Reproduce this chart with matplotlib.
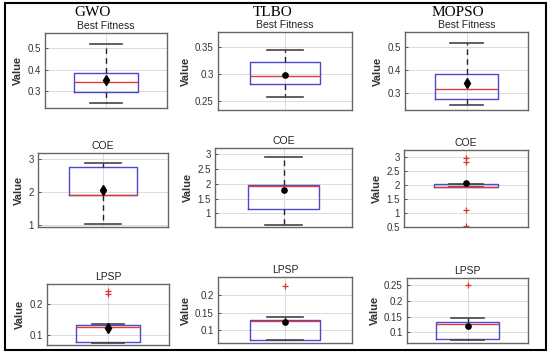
import matplotlib
matplotlib.use("Agg")
import matplotlib.pyplot as plt
from matplotlib.patches import Rectangle
from matplotlib.ticker import FuncFormatter

methods = ["GWO", "TLBO", "MOPSO"]
metrics = ["Best Fitness", "COE", "LPSP"]

# Best Fitness stats (per method)
bf_med = [0.343, 0.295, 0.316]
bf_q1 = [0.297, 0.2815, 0.271]
bf_q3 = [0.386, 0.3217, 0.383]
bf_lo = [0.245, 0.2575, 0.2465]
bf_hi = [0.520, 0.344, 0.517]
bf_mean = [0.350, 0.2975, 0.341]
bf_fliers = [[], [], []]

# COE stats
coe_med = [1.91, 1.91, 1.93]
coe_q1 = [1.91, 1.13, 1.905]
coe_q3 = [2.75, 1.97, 2.01]
coe_lo = [1.04, 0.60, 1.905]
coe_hi = [2.90, 2.92, 2.01]
coe_mean = [2.08, 1.80, 2.06]
coe_fliers = [[], [], [2.97, 2.82, 1.08, 0.53]]

# LPSP stats
lpsp_med = [0.125, 0.126, 0.128]
lpsp_q1 = [0.0785, 0.0735, 0.080]
lpsp_q3 = [0.1326, 0.1297, 0.1333]
lpsp_lo = [0.073, 0.0735, 0.074]
lpsp_hi = [0.136, 0.139, 0.146]
lpsp_mean = [0.124, 0.123, 0.1216]
lpsp_fliers = [[0.243, 0.232], [0.2274], [0.250]]

stats = [
    (bf_med, bf_q1, bf_q3, bf_lo, bf_hi, bf_mean, bf_fliers),
    (coe_med, coe_q1, coe_q3, coe_lo, coe_hi, coe_mean, coe_fliers),
    (lpsp_med, lpsp_q1, lpsp_q3, lpsp_lo, lpsp_hi, lpsp_mean, lpsp_fliers),
]

W, H = 550, 356
# axes boxes in pixels: (left, right, top, bottom)
boxes = [
    [(45, 167, 33, 108), (218, 352, 32, 110), (405, 528, 32, 110)],
    [(38, 168, 153, 227), (215, 352, 148, 227), (404, 528, 150, 227)],
    [(47, 169, 284, 345), (218, 352, 277, 343), (407, 528, 278, 343)],
]
ylims = [
    [(0.222, 0.569), (0.233, 0.377), (0.225, 0.564)],
    [(0.94, 3.19), (0.535, 3.21), (0.49, 3.24)],
    [(0.0675, 0.265), (0.064, 0.2526), (0.066, 0.2736)],
]
yticks = [
    [[0.3, 0.4, 0.5], [0.25, 0.3, 0.35], [0.3, 0.4, 0.5]],
    [[1, 2, 3], [1, 1.5, 2, 2.5, 3], [0.5, 1, 1.5, 2, 2.5, 3]],
    [[0.1, 0.2], [0.1, 0.15, 0.2], [0.1, 0.15, 0.2, 0.25]],
]
header_x = [93, 273, 458]

fig = plt.figure(figsize=(W / 100, H / 100), dpi=100)
fig.patch.set_facecolor("white")

sans = ["Liberation Sans", "DejaVu Sans"]
txt_col = "#333333"

for r in range(3):
    med, q1, q3, lo, hi, mn, fl = stats[r]
    for c in range(3):
        l, rr, t, b = boxes[r][c]
        ax = fig.add_axes([l / W, 1 - b / H, (rr - l) / W, (b - t) / H])
        st = [dict(med=med[c], q1=q1[c], q3=q3[c], whislo=lo[c], whishi=hi[c],
                   mean=mn[c], fliers=fl[c], label="")]
        diamond = (c == 0 or (c == 2 and r == 0))
        ax.bxp(st, positions=[1], widths=0.52, capwidths=0.27, showmeans=True,
               boxprops=dict(color="#4a4ad0", linewidth=1.0),
               medianprops=dict(color="#e23a3a", linewidth=1.0),
               whiskerprops=dict(color="#222222", linewidth=1.0, linestyle=(0, (4, 3))),
               capprops=dict(color="#444444", linewidth=1.2),
               flierprops=dict(marker="+", markeredgecolor="#e03030", markersize=5,
                               markeredgewidth=0.9, linestyle="none"),
               meanprops=dict(marker="d" if diamond else "o",
                              markerfacecolor="black", markeredgecolor="black",
                              markersize=5 if diamond else 3.8))
        ax.set_xlim(0.5, 1.5)
        ax.set_ylim(*ylims[r][c])
        ax.set_yticks(yticks[r][c])
        ax.yaxis.set_major_formatter(FuncFormatter(lambda v, p: "%g" % v))
        ax.set_xticks([1])
        ax.set_xticklabels([])
        ax.tick_params(axis="x", length=0)
        ax.tick_params(axis="y", direction="in", length=2, width=0.6,
                       labelsize=7, colors=txt_col, pad=3)
        for lab in ax.get_yticklabels():
            lab.set_fontfamily(sans)
        ax.grid(True, color="#d6d6d6", linewidth=0.6, linestyle="-")
        ax.set_axisbelow(True)
        for s in ax.spines.values():
            s.set_color("#666666")
            s.set_linewidth(1.0)
        ax.set_ylabel("Value", fontsize=8, color=txt_col, family=sans,
                      fontweight="bold", labelpad=3)
        ax.set_title(metrics[r], fontsize=7.5, color="#222222", family=sans, pad=3)

for c in range(3):
    fig.text(header_x[c] / W, 1 - 12 / H, methods[c], ha="center", va="center",
             fontsize=11, family=["Liberation Serif", "DejaVu Serif"], color="black")

fig.patches.append(Rectangle((5 / W, 1 - 350 / H), 541 / W, 347 / H,
                             transform=fig.transFigure, fill=False,
                             edgecolor="black", linewidth=1.5))

fig.savefig("out.png", dpi=100)
